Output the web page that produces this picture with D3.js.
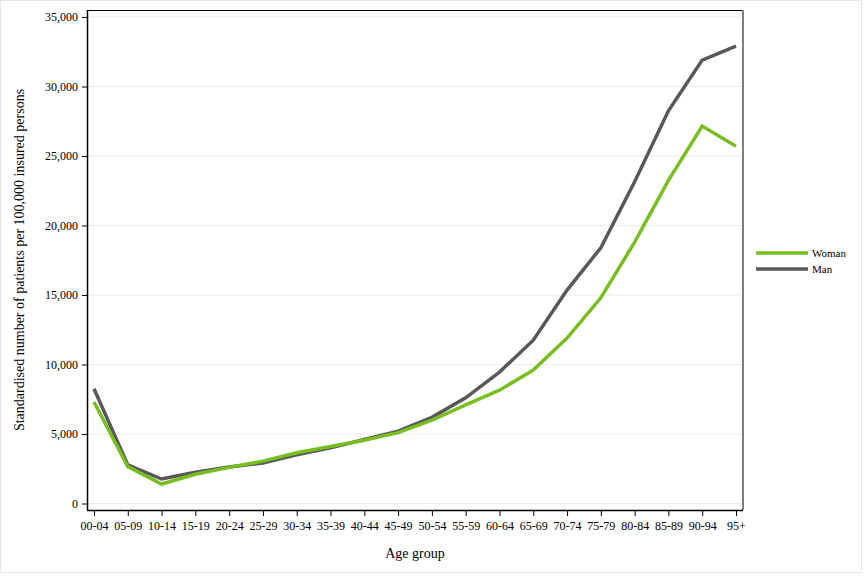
<!DOCTYPE html>
<html><head><meta charset="utf-8">
<script src="https://cdn.jsdelivr.net/npm/d3@7"></script>
<style>body{margin:0;background:#fff}svg{display:block}text{font-family:"Liberation Serif","Times New Roman",serif;fill:#000}</style>
</head><body><svg id="c" width="864" height="576"></svg>
<script>
const categories=["00-04","05-09","10-14","15-19","20-24","25-29","30-34","35-39","40-44","45-49","50-54","55-59","60-64","65-69","70-74","75-79","80-84","85-89","90-94","95+"];
const woman=[7300,2650,1400,2100,2600,3050,3650,4100,4550,5100,6000,7100,8150,9600,11900,14800,18800,23250,27150,25700];
const man=[8250,2780,1760,2250,2620,2920,3500,4000,4600,5200,6200,7600,9450,11750,15350,18400,23150,28250,31900,32900];
const yTicks=[0,5000,10000,15000,20000,25000,30000,35000];
const series=[{name:"Woman",values:woman,color:"#78be20"},{name:"Man",values:man,color:"#58585a"}];

const svg=d3.select("#c");
const L=87,T=10,R=743,B=510;
svg.append("rect").attr("x",0.5).attr("y",0.5).attr("width",861).attr("height",572).attr("fill","#fff").attr("stroke","#e6e6e6");
const x=d3.scalePoint().domain(categories).range([94,736]);
const y=d3.scaleLinear().domain([0,35000]).range([503.5,17]);

// grid
svg.append("g").selectAll("line").data(yTicks).join("line")
 .attr("x1",L).attr("x2",R).attr("y1",d=>y(d)).attr("y2",d=>y(d))
 .attr("stroke","#ebebeb").attr("stroke-width",1);

// frame
svg.append("line").attr("x1",L).attr("x2",R).attr("y1",T+0.5).attr("y2",T+0.5).attr("stroke","#000");
svg.append("line").attr("x1",R).attr("x2",R).attr("y1",T).attr("y2",B).attr("stroke","#808080").attr("stroke-width",2);

const yAxis=svg.append("g").attr("transform",`translate(${L},0)`)
 .call(d3.axisLeft(y).tickValues(yTicks).tickSize(5).tickSizeOuter(0).tickPadding(4).tickFormat(d3.format(",")));
yAxis.select(".domain").attr("d",`M0.5,${T}V${B}`).attr("stroke","#000").attr("stroke-width",1.5);
yAxis.selectAll("text").attr("font-size",12).style("font-family","'Liberation Serif',serif");

const xAxis=svg.append("g").attr("transform",`translate(0,${B})`)
 .call(d3.axisBottom(x).tickSize(6).tickSizeOuter(0).tickPadding(5));
xAxis.select(".domain").attr("d",`M${L},0.5H${R}`).attr("stroke","#000").attr("stroke-width",1.5);
xAxis.selectAll("text").attr("font-size",12).style("font-family","'Liberation Serif',serif");

svg.append("text").attr("x",415).attr("y",558).attr("text-anchor","middle").attr("font-size",14).text("Age group");
svg.append("text").attr("transform","translate(24,260) rotate(-90)").attr("text-anchor","middle").attr("font-size",14)
 .text("Standardised number of patients per 100,000 insured persons");

const line=d3.line().x((d,i)=>x(categories[i])).y(d=>y(d));
svg.append("g").selectAll("path").data(series.slice().reverse()).join("path")
 .attr("d",d=>line(d.values)).attr("fill","none").attr("stroke",d=>d.color).attr("stroke-width",3.5).attr("stroke-linejoin","miter");

const lg=svg.append("g");
series.forEach((s,i)=>{
 const yy=253+i*16;
 lg.append("line").attr("x1",756).attr("x2",808).attr("y1",yy).attr("y2",yy).attr("stroke",s.color).attr("stroke-width",3.5);
 lg.append("text").attr("x",812).attr("y",yy+4).attr("font-size",11).text(s.name);
});
</script></body></html>
